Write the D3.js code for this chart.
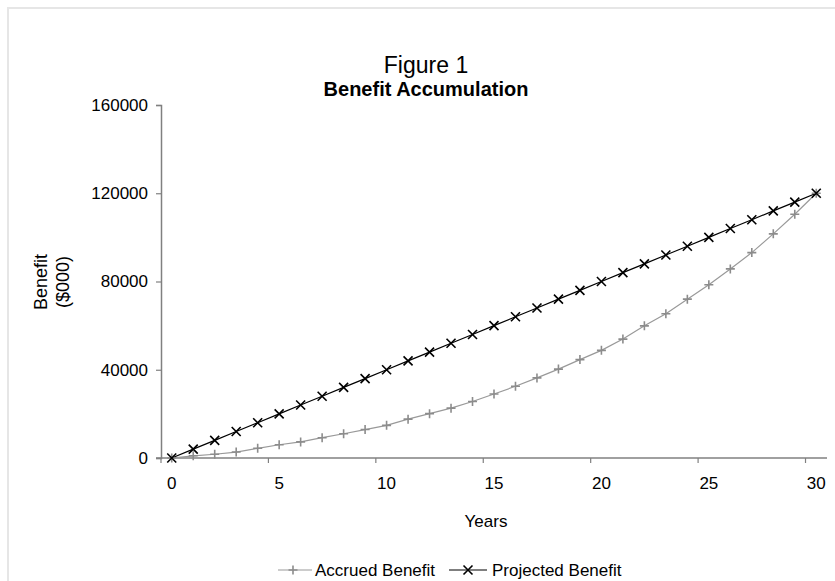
<!DOCTYPE html>
<html>
<head>
<meta charset="utf-8">
<script src="https://cdn.jsdelivr.net/npm/d3@7"></script>
<style>
    body { margin: 0; background: #fff; }
    svg { font-family: "Liberation Sans", Arial, sans-serif; }
</style>
</head>
<body>
<div id="chart"></div>
<script>
const years = d3.range(0, 31);
const accrued = [0, 1000, 1700, 2700, 4400, 6000, 7300, 9200, 11000, 12900, 14800, 17600, 20100, 22600, 25600, 29000, 32500, 36300, 40300, 44600, 48800, 53900, 59900, 65400, 72000, 78500, 85700, 93100, 101600, 110500, 120000];
const projected = [0, 4000, 8000, 12000, 16000, 20000, 24000, 28000, 32000, 36000, 40000, 44000, 48000, 52000, 56000, 60000, 64000, 68000, 72000, 76000, 80000, 84000, 88000, 92000, 96000, 100000, 104000, 108000, 112000, 116000, 120000];
const xLabels = [0, 5, 10, 15, 20, 25, 30];
const yTicks = [0, 40000, 80000, 120000, 160000];

const width = 835,
    height = 581,
    margin = { top: 105, right: 8, bottom: 123, left: 161 };

const svg = d3
    .select("#chart")
    .append("svg")
    .attr("width", width)
    .attr("height", height);

// faint outer frame
svg.append("rect")
    .attr("x", 8)
    .attr("y", 8)
    .attr("width", width)
    .attr("height", height)
    .attr("fill", "none")
    .attr("stroke", "#e6e6e6")
    .attr("stroke-width", 2);

const x = d3
    .scaleBand()
    .domain(years)
    .range([margin.left, width - margin.right])
    .padding(0);

const y = d3
    .scaleLinear()
    .domain([0, 160000])
    .range([height - margin.bottom, margin.top]);

const cx = (d) => x(d) + x.bandwidth() / 2;
const axisColor = "#808080";

// titles
svg.append("text")
    .attr("x", 426)
    .attr("y", 73)
    .attr("text-anchor", "middle")
    .style("font-size", "23px")
    .text("Figure 1");

svg.append("text")
    .attr("x", 426)
    .attr("y", 96)
    .attr("text-anchor", "middle")
    .style("font-size", "20px")
    .style("font-weight", "bold")
    .text("Benefit Accumulation");

// y axis
const yAxis = svg.append("g")
    .attr("transform", `translate(${margin.left},0)`)
    .call(d3.axisLeft(y).tickValues(yTicks).tickSize(5).tickPadding(8).tickFormat(d3.format("d")));
yAxis.select(".domain").attr("stroke", axisColor).attr("stroke-width", 1.5);
yAxis.selectAll(".tick line").attr("stroke", axisColor).attr("stroke-width", 1.2);
yAxis.selectAll(".tick text").attr("fill", "#000").style("font-size", "17px").style("font-family", "Liberation Sans, Arial, sans-serif");

// x axis: labels centred on categories, tick marks between categories
const x0 = y(0);
const xAxis = svg.append("g").attr("transform", `translate(0,${x0})`);
xAxis.append("line")
    .attr("x1", margin.left - 5)
    .attr("x2", width - margin.right)
    .attr("stroke", axisColor)
    .attr("stroke-width", 1.5);
xAxis.selectAll("line.tk")
    .data(xLabels)
    .join("line")
    .attr("class", "tk")
    .attr("x1", (d) => x(d))
    .attr("x2", (d) => x(d))
    .attr("y1", 0)
    .attr("y2", 5)
    .attr("stroke", axisColor)
    .attr("stroke-width", 1.2);
xAxis.selectAll("text")
    .data(xLabels)
    .join("text")
    .attr("x", cx)
    .attr("y", 31)
    .attr("text-anchor", "middle")
    .style("font-size", "17px")
    .text((d) => d);

svg.append("text")
    .attr("x", 486)
    .attr("y", 527)
    .attr("text-anchor", "middle")
    .style("font-size", "17px")
    .text("Years");

const yTitle = svg.append("text")
    .attr("transform", "translate(52,282) rotate(-90)")
    .attr("text-anchor", "middle")
    .style("font-size", "18px");
yTitle.append("tspan").attr("x", 0).attr("y", -5).text("Benefit");
yTitle.append("tspan").attr("x", 0).attr("y", 17).text("($000)");

// lines
const line = (vals) => d3.line().x((d, i) => cx(years[i])).y((d) => y(d))(vals);

svg.append("path")
    .attr("d", line(accrued))
    .attr("fill", "none")
    .attr("stroke", "#999")
    .attr("stroke-width", 1.2);

svg.append("path")
    .attr("d", line(projected))
    .attr("fill", "none")
    .attr("stroke", "#000")
    .attr("stroke-width", 1.2);

function drawPlus(g, px, py, s, color) {
    g.append("path")
        .attr("d", `M${px - s},${py}H${px + s}M${px},${py - s}V${py + s}`)
        .attr("stroke", color)
        .attr("stroke-width", 1.6);
}
function drawX(g, px, py, s, color) {
    g.append("path")
        .attr("d", `M${px - s},${py - s}L${px + s},${py + s}M${px - s},${py + s}L${px + s},${py - s}`)
        .attr("stroke", color)
        .attr("stroke-width", 1.6);
}

const mAcc = svg.append("g");
accrued.forEach((v, i) => drawPlus(mAcc, cx(years[i]), y(v), 4.5, "#8c8c8c"));
const mProj = svg.append("g");
projected.forEach((v, i) => drawX(mProj, cx(years[i]), y(v), 4.5, "#000"));

// legend
const leg = svg.append("g");
const ly = 570;
leg.append("line").attr("x1", 278).attr("x2", 312).attr("y1", ly).attr("y2", ly).attr("stroke", "#999").attr("stroke-width", 1.2);
drawPlus(leg, 293, ly, 4.5, "#8c8c8c");
leg.append("text").attr("x", 315).attr("y", ly + 6).style("font-size", "17px").text("Accrued Benefit");
leg.append("line").attr("x1", 449).attr("x2", 487).attr("y1", ly).attr("y2", ly).attr("stroke", "#000").attr("stroke-width", 1.2);
drawX(leg, 468, ly, 4.5, "#000");
leg.append("text").attr("x", 492).attr("y", ly + 6).style("font-size", "17px").text("Projected Benefit");
</script>
</body>
</html>
